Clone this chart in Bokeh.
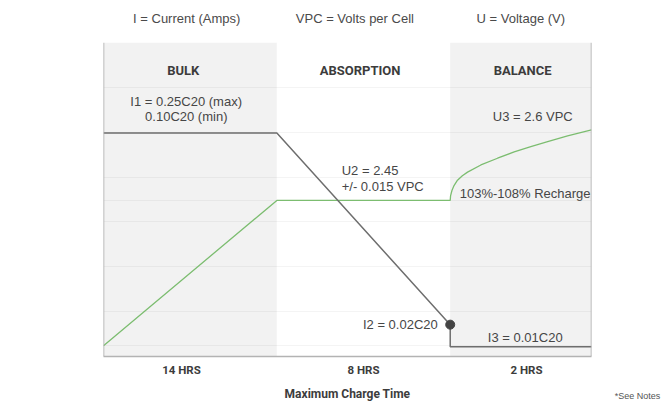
from bokeh.plotting import figure
from bokeh.models import ColumnDataSource, Label, Span, FixedTicker, LinearAxis
from bokeh.core.properties import value
from bokeh.embed import file_html
from bokeh.resources import INLINE

# ---- data ----
phase_names = ["BULK", "ABSORPTION", "BALANCE"]
phase_hours = ["14 HRS", "8 HRS", "2 HRS"]
phase_edges = [0.0, 1.0, 2.0, 2.815]
phase_fill = ["#f2f2f2", "#ffffff", "#f2f2f2"]

legend_texts = ["I = Current (Amps)", "VPC = Volts per Cell", "U = Voltage (V)"]

# current (I) profile
current_x = [0.0, 1.0, 2.0, 2.0, 2.815]
current_y = [4.98, 4.98, 0.71, 0.22, 0.22]

# voltage (U) profile
voltage_x = [0.0, 1.0, 2.0, 2.002, 2.010, 2.022, 2.042, 2.070, 2.100, 2.177, 2.273, 2.369,
             2.465, 2.562, 2.677, 2.815]
voltage_y = [0.24, 3.48, 3.48, 3.58, 3.70, 3.81, 3.93, 4.03, 4.11, 4.27, 4.42, 4.56,
             4.68, 4.79, 4.92, 5.05]

grid_levels = [0.24, 1, 2, 3, 3.48, 4, 5, 6]

# annotation texts
i1_lines = ["I1 = 0.25C20 (max)", "0.10C20 (min)"]
u2_lines = ["U2 = 2.45", "+/- 0.015 VPC"]
u3_text = "U3 = 2.6 VPC"
recharge_text = "103%-108% Recharge"
i2_text = "I2 = 0.02C20"
i3_text = "I3 = 0.01C20"
notes_text = "*See Notes"

HEAD = "Roboto"
REG = "Liberation Sans"
TXT = "#464646"
DARK = "#3c3c3c"

p = figure(width=668, height=403, x_range=(phase_edges[0], phase_edges[-1]), y_range=(0, 7),
           output_backend="svg", toolbar_location=None,
           min_border_left=103, min_border_right=77, min_border_top=42, min_border_bottom=45)
p.outline_line_color = None
p.background_fill_color = "white"
p.border_fill_color = "white"
p.yaxis.visible = False
p.xgrid.visible = False
p.ygrid.ticker = FixedTicker(ticks=grid_levels)
p.ygrid.grid_line_color = "#000000"
p.ygrid.grid_line_alpha = 0.045

# phase bands
band_src = ColumnDataSource(dict(left=phase_edges[:-1], right=phase_edges[1:], fill=phase_fill))
p.quad(left="left", right="right", bottom=0, top=7, fill_color="fill", line_color=None,
       source=band_src, level="image")

# frame side lines
p.add_layout(Span(location=phase_edges[0], dimension="height", line_color="#a8a8a8", line_width=1.5))
p.add_layout(Span(location=phase_edges[-1], dimension="height", line_color="#a8a8a8", line_width=1.5))

# band headers
centers = [(a + b) / 2 for a, b in zip(phase_edges[:-1], phase_edges[1:])]
p.text(x=[centers[0] - 0.04, centers[1] - 0.02, centers[2] + 0.01], y=[6.38] * 3, text=phase_names,
       text_font=value(HEAD), text_font_style="bold", text_font_size="13px",
       text_color=DARK, text_align="center", text_baseline="middle")

# lines
p.line(voltage_x, voltage_y, line_color="#7cbd70", line_width=1.3)
p.line(current_x, current_y, line_color="#6e6e6e", line_width=1.5)
p.scatter(x=[current_x[2]], y=[current_y[2]], size=9, color="#444444")

# annotations
def txt(x, y, t, align="left"):
    p.text(x=[x], y=[y], text=[t], text_font=value(REG), text_font_size="13px",
           text_color=TXT, text_align=align, text_baseline="middle")

txt(0.155, 5.69, i1_lines[0])
txt(0.24, 5.36, i1_lines[1])
txt(1.374, 4.14, u2_lines[0])
txt(1.374, 3.79, u2_lines[1])
txt(2.246, 5.36, u3_text)
txt(2.055, 3.63, recharge_text)
txt(1.928, 0.71, i2_text, "right")
txt(2.217, 0.42, i3_text)

# bottom axis
xb = p.below[0]
hour_ticks = [0.45, 1.5, 2.44]
xb.ticker = FixedTicker(ticks=hour_ticks)
xb.major_label_overrides = {t: s for t, s in zip(hour_ticks, phase_hours)}
xb.major_tick_line_color = None
xb.minor_tick_line_color = None
xb.major_tick_out = 0
xb.major_tick_in = 0
xb.minor_tick_out = 0
xb.axis_line_color = "#b3b3b3"
xb.axis_line_width = 1.5
xb.major_label_text_font = HEAD
xb.major_label_text_font_style = "bold"
xb.major_label_text_font_size = "11.5px"
xb.major_label_text_color = DARK
xb.major_label_standoff = 6
xb.axis_label = "Maximum Charge Time"
xb.axis_label_text_font = HEAD
xb.axis_label_text_font_style = "bold"
xb.axis_label_text_font_size = "12px"
xb.axis_label_text_color = DARK
xb.axis_label_standoff = 7

# top legend as an axis above the frame
top_ticks = [centers[0] - 0.02, centers[1] - 0.05, centers[2]]
top = LinearAxis(ticker=FixedTicker(ticks=top_ticks),
                 major_label_overrides={t: s for t, s in zip(top_ticks, legend_texts)},
                 axis_line_color=None, major_tick_line_color=None, minor_tick_line_color=None,
                 major_tick_out=0, major_tick_in=0, minor_tick_out=0,
                 major_label_text_font=REG, major_label_text_font_size="13px",
                 major_label_text_color="#4a4a4a", major_label_standoff=17)
p.add_layout(top, "above")

# footnote, placed in the right side panel so it is not clipped to the frame
p.add_layout(Label(x=46, y=-39, x_units="screen", y_units="screen", text=notes_text,
                   text_font=REG, text_font_size="9px", text_color="#555555",
                   text_align="center", text_baseline="middle"), "right")

open("out.html", "w").write(file_html(p, INLINE))
